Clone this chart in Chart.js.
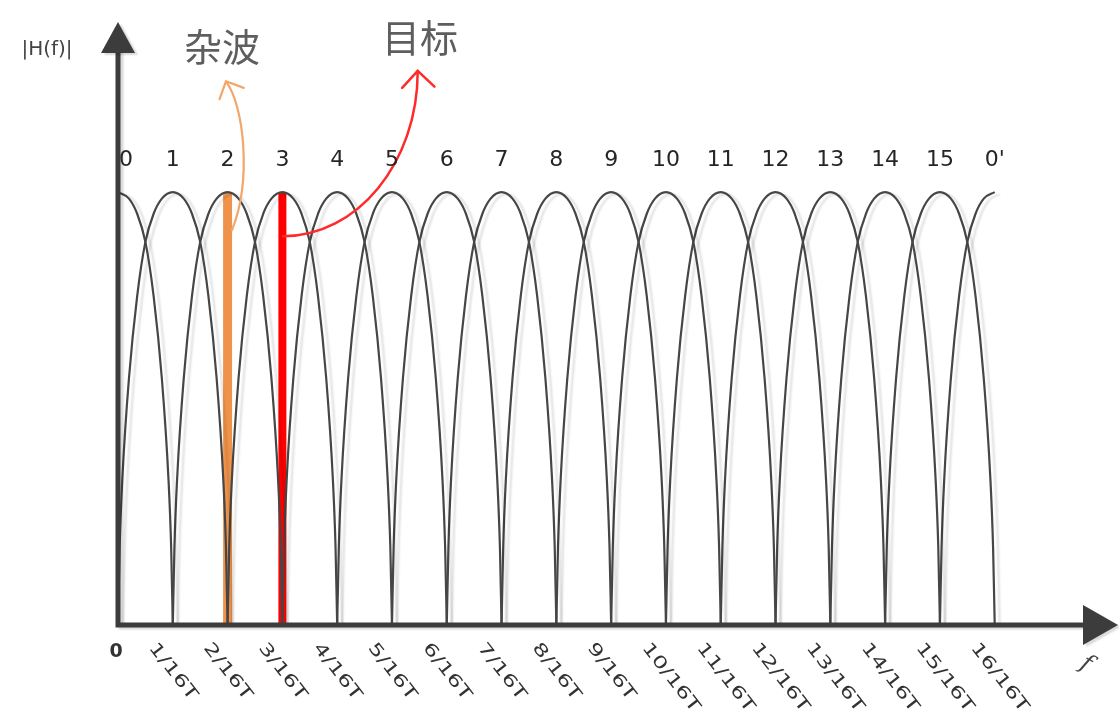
<!DOCTYPE html>
<html>
<head>
<meta charset="utf-8">
<script src="https://cdn.jsdelivr.net/npm/chart.js@4.4.0/dist/chart.umd.min.js"></script>
<style>
  body { margin: 0; background: #fff; }
  canvas { display: block; }
</style>
</head>
<body>
<canvas id="bank" width="1119" height="727"></canvas>
<script>
// filter index k has its peak at k/16T and its zeros at (k-1)/16T and (k+1)/16T
var archCenters = [0, 1, 2, 3, 4, 5, 6, 7, 8, 9, 10, 11, 12, 13, 14, 15, 16];
var peakLabels = ['0', '1', '2', '3', '4', '5', '6', '7', '8', '9', '10', '11', '12', '13', '14', '15', "0'"];
var tickValues = [0, 1, 2, 3, 4, 5, 6, 7, 8, 9, 10, 11, 12, 13, 14, 15, 16];
var tickLabels = ['0', '1/16T', '2/16T', '3/16T', '4/16T', '5/16T', '6/16T', '7/16T', '8/16T',
  '9/16T', '10/16T', '11/16T', '12/16T', '13/16T', '14/16T', '15/16T', '16/16T'];

// arch shape (offset from the peak, in ticks -> |H|)
var profileOffset = [-1, -0.97, -0.92, -0.8, -0.65, -0.5, -0.35, -0.2, 0, 0.2, 0.35, 0.5, 0.65, 0.8, 0.92, 0.97, 1];
var profileHeight = [0, 0.18, 0.34, 0.57, 0.76, 0.885, 0.95, 0.985, 1, 0.985, 0.95, 0.885, 0.76, 0.57, 0.34, 0.18, 0];

// marked bins
var clutterBin = 2;
var targetBin = 3;

// curved callout arrows, bezier points in axis units
var clutterArrow = [[2.08, 0.912], [2.445, 1.028], [2.30, 1.20], [1.97, 1.256]];
var targetArrow = [[3.01, 0.898], [4.36, 0.898], [5.47, 1.067], [5.47, 1.28]];

var datasets = [];
archCenters.forEach(function (k) {
  var pts = [];
  profileOffset.forEach(function (d, i) {
    var x = k + d;
    if (x >= 0 && x <= 16) pts.push({ x: x, y: profileHeight[i] });
  });
  datasets.push({
    data: pts,
    borderColor: '#464646',
    borderWidth: 2.2,
    cubicInterpolationMode: 'monotone',
    pointRadius: 0,
    arch: true
  });
});
datasets.push({
  data: [{ x: clutterBin, y: 0 }, { x: clutterBin, y: 1 }],
  borderColor: '#f0934a',
  borderWidth: 9,
  borderCapStyle: 'butt',
  pointRadius: 0
});
datasets.push({
  data: [{ x: targetBin, y: 0 }, { x: targetBin, y: 1 }],
  borderColor: '#ff0000',
  borderWidth: 8,
  borderCapStyle: 'butt',
  pointRadius: 0
});

var ghost = {
  id: 'ghost',
  beforeDatasetDraw: function (chart, args) {
    if (!chart.data.datasets[args.index].arch) return;
    var ctx = chart.ctx;
    ctx.save();
    ctx.shadowColor = 'rgba(0,0,0,0.12)';
    ctx.shadowOffsetX = 5;
    ctx.shadowOffsetY = 2;
    ctx.shadowBlur = 2;
  },
  afterDatasetDraw: function (chart, args) {
    if (chart.data.datasets[args.index].arch) chart.ctx.restore();
  }
};

function arrowCurve(ctx, xs, ys, pts, color, width, headLen, headDir) {
  var p = pts.map(function (q) { return [xs.getPixelForValue(q[0]), ys.getPixelForValue(q[1])]; });
  ctx.save();
  ctx.strokeStyle = color;
  ctx.lineWidth = width;
  ctx.lineCap = 'round';
  ctx.beginPath();
  ctx.moveTo(p[0][0], p[0][1]);
  ctx.bezierCurveTo(p[1][0], p[1][1], p[2][0], p[2][1], p[3][0], p[3][1]);
  ctx.stroke();
  var ang = headDir * Math.PI / 180;
  ctx.beginPath();
  [-0.78, 0.78].forEach(function (s) {
    ctx.moveTo(p[3][0], p[3][1]);
    ctx.lineTo(p[3][0] - headLen * Math.cos(ang + s), p[3][1] - headLen * Math.sin(ang + s));
  });
  ctx.stroke();
  ctx.restore();
}

var decor = {
  id: 'decor',
  afterDatasetsDraw: function (chart) {
    var ctx = chart.ctx;
    var xs = chart.scales.x, ys = chart.scales.y;
    var x0 = xs.getPixelForValue(0), y0 = ys.getPixelForValue(0);
    var top = chart.chartArea.top, right = chart.chartArea.right;

    // axes with arrow heads
    ctx.save();
    ctx.shadowColor = 'rgba(0,0,0,0.15)';
    ctx.shadowOffsetX = 3;
    ctx.shadowOffsetY = 2;
    ctx.shadowBlur = 2;
    ctx.strokeStyle = '#3c3c3c';
    ctx.fillStyle = '#3c3c3c';
    ctx.lineWidth = 5;
    ctx.beginPath();
    ctx.moveTo(x0, y0 + 2.5);
    ctx.lineTo(x0, top + 28);
    ctx.moveTo(x0 - 2.5, y0);
    ctx.lineTo(right - 32, y0);
    ctx.stroke();
    ctx.beginPath();
    ctx.moveTo(x0, top);
    ctx.lineTo(x0 - 17, top + 31);
    ctx.lineTo(x0 + 17, top + 31);
    ctx.closePath();
    ctx.fill();
    ctx.beginPath();
    ctx.moveTo(right, y0);
    ctx.lineTo(right - 35, y0 - 20);
    ctx.lineTo(right - 35, y0 + 20);
    ctx.closePath();
    ctx.fill();
    ctx.restore();

    // callout arrows
    arrowCurve(ctx, xs, ys, clutterArrow, '#f3a66a', 2.2, 19, -115);
    arrowCurve(ctx, xs, ys, targetArrow, '#ff2a2a', 2.5, 23, -92);

    // filter numbers above the peaks
    ctx.save();
    ctx.fillStyle = '#262626';
    ctx.font = '22px "DejaVu Sans"';
    ctx.textAlign = 'center';
    ctx.textBaseline = 'middle';
    peakLabels.forEach(function (t, i) {
      var px = xs.getPixelForValue(archCenters[i]);
      if (i === 0) px += 8;
      ctx.fillText(t, px, ys.getPixelForValue(1.074));
    });
    ctx.restore();

    // frequency tick labels
    ctx.save();
    ctx.fillStyle = '#333';
    ctx.font = '17px "DejaVu Sans"';
    tickValues.forEach(function (v, i) {
      var px = xs.getPixelForValue(v);
      if (i === 0) {
        ctx.font = 'bold 19px "DejaVu Sans"';
        ctx.textAlign = 'center';
        ctx.textBaseline = 'middle';
        ctx.fillText(tickLabels[i], px - 2, y0 + 27);
        ctx.font = '17px "DejaVu Sans"';
        return;
      }
      ctx.save();
      ctx.translate(px - 21, y0 + 20);
      ctx.rotate(52 * Math.PI / 180);
      ctx.scale(1.4, 1);
      ctx.textAlign = 'left';
      ctx.textBaseline = 'middle';
      ctx.fillText(tickLabels[i], 0, 0);
      ctx.restore();
    });
    ctx.restore();

    // axis names and callout texts
    ctx.save();
    ctx.fillStyle = '#444';
    ctx.font = '20px "DejaVu Sans"';
    ctx.textAlign = 'center';
    ctx.textBaseline = 'middle';
    ctx.fillText('|H(f)|', 47, 50);
    ctx.save();
    ctx.translate(1086, 664);
    ctx.rotate(30 * Math.PI / 180);
    ctx.font = 'italic 24px "DejaVu Serif"';
    ctx.fillText('f', 0, 0);
    ctx.restore();
    ctx.fillStyle = '#5e5e5e';
    ctx.font = '38px "Noto Sans CJK SC"';
    ctx.fillText('杂波', 222, 47);
    ctx.fillText('目标', 420, 38);
    ctx.restore();
  }
};

new Chart(document.getElementById('bank'), {
  type: 'line',
  data: { datasets: datasets },
  options: {
    responsive: false,
    animation: false,
    devicePixelRatio: 1,
    layout: { padding: { left: 118, right: 1, top: 22, bottom: 102 } },
    scales: {
      x: { type: 'linear', min: 0, max: 18.25, display: false },
      y: { min: 0, max: 1.393, display: false }
    },
    plugins: {
      legend: { display: false },
      tooltip: { enabled: false }
    }
  },
  plugins: [ghost, decor]
});
</script>
</body>
</html>
